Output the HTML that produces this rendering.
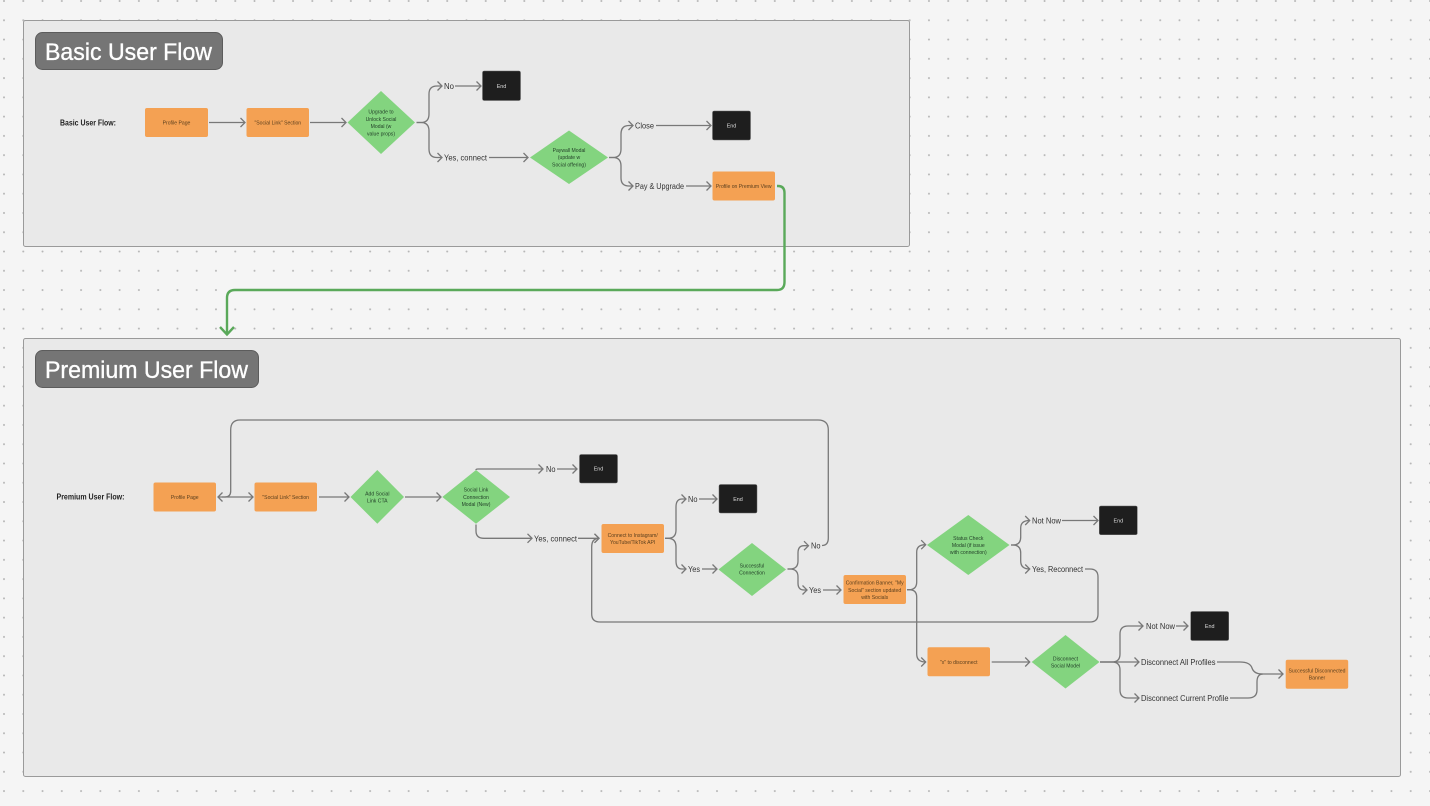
<!DOCTYPE html>
<html><head><meta charset="utf-8"><style>
html,body{margin:0;padding:0;background:#f5f5f5;width:1430px;height:806px;overflow:hidden}
svg{display:block}
text{font-family:"Liberation Sans",sans-serif}
.n{font-size:5.1px;fill:#5a3f1e;text-anchor:middle}
.g{font-size:5.1px;fill:#24422a;text-anchor:middle}
.w{font-size:5.4px;fill:#ddd;text-anchor:middle}
.l{font-size:8px;fill:#333}
.b{font-size:8px;font-weight:bold;fill:#1e1e1e}
.t{font-size:24px;fill:#fff;stroke:#fff;stroke-width:.35}
.c{fill:none;stroke:#787878;stroke-width:1.3;marker-end:url(#a)}
.p{fill:none;stroke:#787878;stroke-width:1.3}
.o{fill:#f4a153}.d{fill:#83d47f}.e{fill:#1e1e1e;stroke:#666;stroke-width:.5}
</style></head><body>
<svg width="1430" height="806" viewBox="0 0 1430 806" xmlns="http://www.w3.org/2000/svg">
<defs>
<pattern id="dots" x="4" y="1" width="19.27" height="19.27" patternUnits="userSpaceOnUse"><circle cx="0" cy="0" r="1" fill="#b5b5b5"/><circle cx="19.27" cy="0" r="1" fill="#b5b5b5"/><circle cx="0" cy="19.27" r="1" fill="#b5b5b5"/><circle cx="19.27" cy="19.27" r="1" fill="#b5b5b5"/></pattern>
<marker id="a" markerUnits="userSpaceOnUse" markerWidth="12" markerHeight="12" refX="6" refY="6" orient="auto"><path d="M1.5 1.5L6 6L1.5 10.5" fill="none" stroke="#787878" stroke-width="1.3"/></marker>
</defs>
<rect width="1430" height="806" fill="#f5f5f5"/>
<rect width="1430" height="806" fill="url(#dots)"/>

<rect x="23.5" y="20.5" width="886" height="226" rx="2" fill="#e9e9e9" stroke="#9a9a9a"/>
<rect x="23.5" y="338.5" width="1377" height="438" rx="2" fill="#e9e9e9" stroke="#9a9a9a"/>
<rect x="35.5" y="32.5" width="187" height="37" rx="7" fill="#757575" stroke="#5c5c5c"/>
<text class="t" x="45" y="60" textLength="167" lengthAdjust="spacingAndGlyphs">Basic User Flow</text>
<rect x="35.5" y="350.5" width="223" height="37" rx="7" fill="#757575" stroke="#5c5c5c"/>
<text class="t" x="45" y="378" textLength="203" lengthAdjust="spacingAndGlyphs">Premium User Flow</text>

<!-- Basic connectors -->
<path class="c" d="M209 122.500H245"/>
<path class="c" d="M310 122.500H346"/>
<path class="c" d="M416.500 122.500H421Q429 122.500 429 114V94Q429 86 437 86H442"/>
<path class="c" d="M416.500 122.500H421Q429 122.500 429 131V149Q429 157.500 437 157.500H442"/>
<path class="c" d="M455 86H481"/>
<path class="c" d="M489 157.500H528"/>
<path class="c" d="M609 157.500H613Q621 157.500 621 149V134Q621 125.500 629 125.500H633"/>
<path class="c" d="M609 157.500H613Q621 157.500 621 166V178Q621 186 629 186H633"/>
<path class="c" d="M656 125.500H711"/>
<path class="c" d="M686 186H711"/>

<!-- Green connector -->
<path d="M777 186H778Q784.500 186 784.500 193V282Q784.500 290 777 290H235Q227 290 227 298V334" fill="none" stroke="#5aa95a" stroke-width="2.400"/>
<path d="M220 327L227 334.500L234 327" fill="none" stroke="#5aa95a" stroke-width="2.400"/>

<!-- Basic nodes -->
<rect class="o" x="145" y="108" width="63" height="29" rx="2"/>
<rect class="o" x="246.500" y="108" width="62.500" height="29" rx="2"/>
<path class="d" d="M381 91L415 122.500L381 154L347.500 122.500Z"/>
<rect class="e" x="482.500" y="71" width="38" height="29.500" rx="1.500"/>
<rect class="e" x="712.500" y="111" width="38" height="29" rx="1.500"/>
<path class="d" d="M569 130.500L608 157.500L569 184L530 157.500Z"/>
<rect class="o" x="712.500" y="171.500" width="62.500" height="29" rx="2"/>

<text class="b" x="60" y="125.500" textLength="56" lengthAdjust="spacingAndGlyphs">Basic User Flow:</text>
<text class="n" x="176.500" y="124.300">Profile Page</text>
<text class="n" x="277.800" y="124.300">"Social Link" Section</text>
<text class="g" x="381" y="113.500">Upgrade to</text>
<text class="g" x="381" y="120.800">Unlock Social</text>
<text class="g" x="381" y="128">Modal (w</text>
<text class="g" x="381" y="135.300">value props)</text>
<text class="w" x="501.500" y="88">End</text>
<text class="w" x="731.500" y="127.500">End</text>
<text class="g" x="569" y="151.800">Paywall Modal</text>
<text class="g" x="569" y="159.100">(update w</text>
<text class="g" x="569" y="166.300">Social offering)</text>
<text class="n" x="743.700" y="187.800">Profile on Premium View</text>
<text class="l" x="444" y="89" textLength="10" lengthAdjust="spacingAndGlyphs">No</text>
<text class="l" x="444" y="160.500" textLength="43" lengthAdjust="spacingAndGlyphs">Yes, connect</text>
<text class="l" x="635" y="128.500" textLength="19" lengthAdjust="spacingAndGlyphs">Close</text>
<text class="l" x="635" y="189" textLength="49" lengthAdjust="spacingAndGlyphs">Pay &amp; Upgrade</text>

<!-- Premium connectors -->
<path class="c" d="M222 497H253"/>
<path class="p" d="M225 497Q230.700 497 230.700 491V430Q230.700 420 240 420H818Q828.300 420 828.300 430V538Q828.300 545.500 822 545.500"/>
<path class="p" d="M225 497H218M222.500 492.500L218 497L222.500 501.500"/>
<path class="c" d="M319 497H349"/>
<path class="c" d="M405 497H441"/>
<path class="c" d="M476 470Q476 469 478 469H543"/>
<path class="c" d="M557 469H577"/>
<path class="c" d="M476 524.500V531Q476 538.300 484 538.300H532"/>
<path class="c" d="M578 538.300H599"/>
<path class="c" d="M1085 569H1090Q1098 569 1098 577V614Q1098 622 1090 622H600Q591.700 622 591.700 614V547Q591.700 538.300 599 538.300"/>
<path class="c" d="M665 538.300H668Q676 538.300 676 530V507Q676 499 682 499H686"/>
<path class="c" d="M665 538.300H668Q676 538.300 676 547V561Q676 569 682 569H686"/>
<path class="c" d="M699 499H717"/>
<path class="c" d="M702 569H717"/>
<path class="c" d="M787.500 569H790Q798 569 798 561V553Q798 545.700 804 545.700H808.500"/>
<path class="c" d="M787.500 569H790Q798 569 798 577V583Q798 590 804 590H807"/>
<path class="c" d="M823 590H841"/>
<path class="c" d="M907 589.700H909Q916.700 589.700 916.700 582V552Q916.700 544.700 925.700 544.700"/>
<path class="c" d="M907 589.700H909Q916.700 589.700 916.700 597V654Q916.700 662 925.700 662"/>
<path class="c" d="M1011 545H1013Q1020.700 545 1020.700 537V528Q1020.700 520.500 1029.700 520.500"/>
<path class="c" d="M1011 545H1013Q1020.700 545 1020.700 553V561Q1020.700 569 1029.700 569"/>
<path class="c" d="M1062 520.500H1098"/>
<path class="c" d="M991.700 662H1029.700"/>
<path class="c" d="M1100 662H1112Q1120 662 1120 654V634Q1120 626 1128 626H1143"/>
<path class="c" d="M1100 662H1139"/>
<path class="c" d="M1100 662H1112Q1120 662 1120 670V690Q1120 698 1128 698H1139"/>
<path class="c" d="M1176 626H1188"/>
<path class="p" d="M1217 662H1240Q1250 662 1252 668Q1254 674 1262 674"/>
<path class="p" d="M1230 698H1248Q1257 698 1257 690V682Q1257 674 1263 674"/>
<path class="c" d="M1260 674H1283"/>

<!-- Premium nodes -->
<rect class="o" x="153.500" y="482.500" width="62.500" height="29" rx="2"/>
<rect class="o" x="254.500" y="482.500" width="62.500" height="29" rx="2"/>
<path class="d" d="M377.300 470L404 497L377.300 523.700L350.500 497Z"/>
<path class="d" d="M476 470L510 497L476 523.700L442.300 497Z"/>
<rect class="e" x="579.500" y="454.500" width="38" height="28.500" rx="1.500"/>
<rect class="o" x="601.500" y="524" width="62.500" height="29" rx="2"/>
<rect class="e" x="719" y="484.500" width="38" height="28.500" rx="1.500"/>
<path class="d" d="M752 543L786 569.500L752 596L718.500 569.500Z"/>
<rect class="o" x="843.500" y="575" width="62.500" height="29" rx="2"/>
<path class="d" d="M968.300 515L1009.500 545L968.300 575L927 545Z"/>
<rect class="e" x="1099.300" y="506" width="38" height="28.700" rx="1.500"/>
<rect class="o" x="927.500" y="647.300" width="62.500" height="29" rx="2"/>
<path class="d" d="M1065.500 635L1099.500 662L1065.500 688.500L1031.700 662Z"/>
<rect class="e" x="1190.700" y="611.500" width="38" height="29" rx="1.500"/>
<rect class="o" x="1285.700" y="659.700" width="62.500" height="29" rx="2"/>

<text class="b" x="56.500" y="499.500" textLength="68" lengthAdjust="spacingAndGlyphs">Premium User Flow:</text>
<text class="n" x="184.700" y="498.800">Profile Page</text>
<text class="n" x="285.700" y="498.800">"Social Link" Section</text>
<text class="g" x="377.300" y="495.300">Add Social</text>
<text class="g" x="377.300" y="502.500">Link CTA</text>
<text class="g" x="476" y="491.600">Social Link</text>
<text class="g" x="476" y="498.800">Connection</text>
<text class="g" x="476" y="506">Modal (New)</text>
<text class="w" x="598.500" y="470.700">End</text>
<text class="n" x="632.700" y="536.800">Connect to Instagram/</text>
<text class="n" x="632.700" y="544.100">YouTube/TikTok API</text>
<text class="w" x="738" y="501">End</text>
<text class="g" x="752" y="567.300">Successful</text>
<text class="g" x="752" y="574.500">Connection</text>
<text class="n" x="874.700" y="584.600">Confirmation Banner, "My</text>
<text class="n" x="874.700" y="591.800">Social" section updated</text>
<text class="n" x="874.700" y="599.100">with Socials</text>
<text class="g" x="968.300" y="539.800">Status Check</text>
<text class="g" x="968.300" y="547">Modal (if issue</text>
<text class="g" x="968.300" y="554.200">with connection)</text>
<text class="w" x="1118.300" y="522.500">End</text>
<text class="n" x="958.700" y="663.800">"x" to disconnect</text>
<text class="g" x="1065.500" y="660.300">Disconnect</text>
<text class="g" x="1065.500" y="667.600">Social Model</text>
<text class="w" x="1209.700" y="628">End</text>
<text class="n" x="1317" y="672.300">Successful Disconnected</text>
<text class="n" x="1317" y="679.600">Banner</text>

<text class="l" x="546" y="472" textLength="9.500" lengthAdjust="spacingAndGlyphs">No</text>
<text class="l" x="534" y="541.300" textLength="43" lengthAdjust="spacingAndGlyphs">Yes, connect</text>
<text class="l" x="688" y="502" textLength="9.500" lengthAdjust="spacingAndGlyphs">No</text>
<text class="l" x="688" y="572" textLength="12" lengthAdjust="spacingAndGlyphs">Yes</text>
<text class="l" x="811" y="548.700" textLength="9.500" lengthAdjust="spacingAndGlyphs">No</text>
<text class="l" x="809" y="593" textLength="12" lengthAdjust="spacingAndGlyphs">Yes</text>
<text class="l" x="1032" y="523.500" textLength="29" lengthAdjust="spacingAndGlyphs">Not Now</text>
<text class="l" x="1032" y="572" textLength="51" lengthAdjust="spacingAndGlyphs">Yes, Reconnect</text>
<text class="l" x="1146" y="629" textLength="29" lengthAdjust="spacingAndGlyphs">Not Now</text>
<text class="l" x="1141" y="665" textLength="74.500" lengthAdjust="spacingAndGlyphs">Disconnect All Profiles</text>
<text class="l" x="1141" y="701" textLength="87.500" lengthAdjust="spacingAndGlyphs">Disconnect Current Profile</text>
</svg>
</body></html>
